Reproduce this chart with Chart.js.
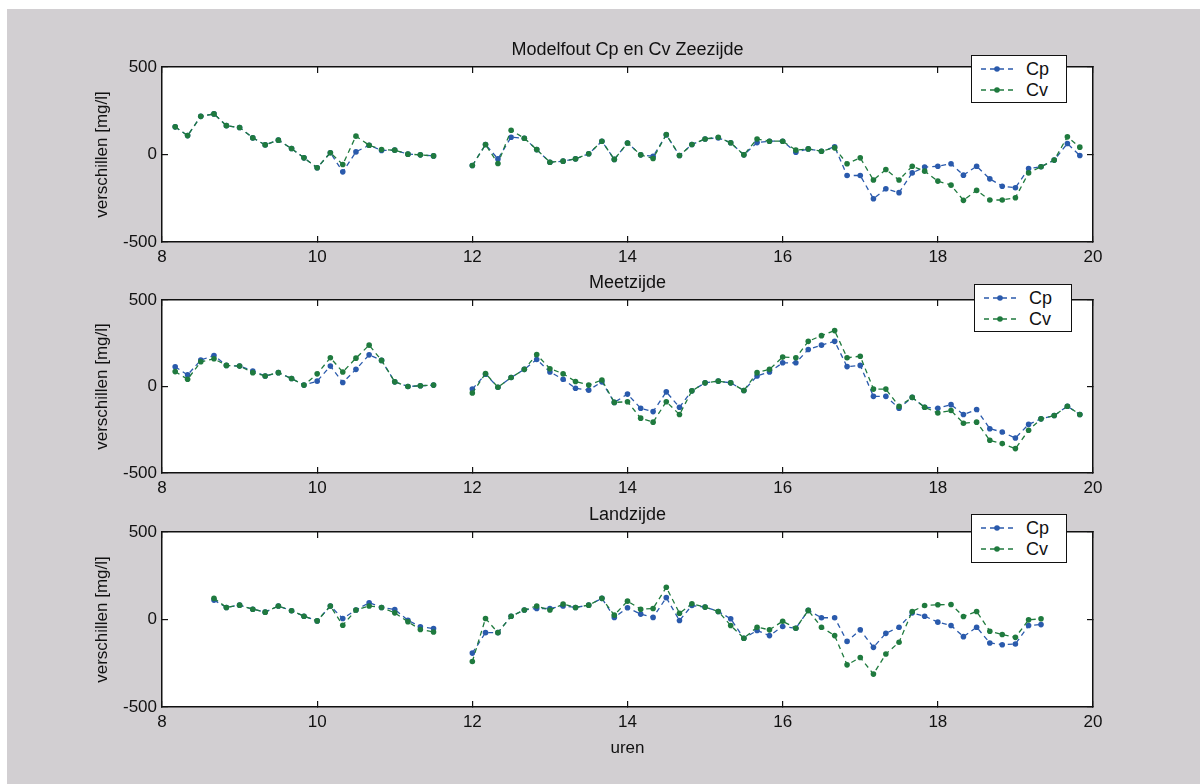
<!DOCTYPE html>
<html>
<head>
<meta charset="utf-8">
<script src="https://cdn.jsdelivr.net/npm/chart.js@4.4.1/dist/chart.umd.min.js"></script>
<style>
  html, body { margin:0; padding:0; width:1200px; height:784px; overflow:hidden; background:#ffffff; }
  #paper { position:absolute; left:7px; top:9px; right:0; bottom:0; background:#d2cfd2; }
  canvas { position:absolute; left:0; top:0; }
  .legend { position:absolute; background:#fff; border:1px solid #111; box-sizing:border-box;
            font-family:"Liberation Sans", Arial, sans-serif; font-size:18px; color:#111; }
  .legend .row { position:absolute; left:0; height:22px; display:flex; align-items:center; }
  .legend svg { margin-left:8px; margin-right:12px; }
</style>
</head>
<body>
<div id="paper"></div>
<canvas id="c1" width="1200" height="784"></canvas>
<canvas id="c2" width="1200" height="784"></canvas>
<canvas id="c3" width="1200" height="784"></canvas>
<div id="legends"></div>
<script>
// ---- data ----
const hoursFull = [8.17,8.33,8.5,8.67,8.83,9,9.17,9.33,9.5,9.67,9.83,10,10.17,10.33,10.5,10.67,10.83,11,11.17,11.33,11.5,11.67,11.83,
  12,12.17,12.33,12.5,12.67,12.83,13,13.17,13.33,13.5,13.67,13.83,14,14.17,14.33,14.5,14.67,14.83,15,15.17,15.33,15.5,15.67,15.83,
  16,16.17,16.33,16.5,16.67,16.83,17,17.17,17.33,17.5,17.67,17.83,18,18.17,18.33,18.5,18.67,18.83,19,19.17,19.33,19.5,19.67,19.83];
const hoursLand = [8.67,8.83,9,9.17,9.33,9.5,9.67,9.83,10,10.17,10.33,10.5,10.67,10.83,11,11.17,11.33,11.5,11.67,11.83,
  12,12.17,12.33,12.5,12.67,12.83,13,13.17,13.33,13.5,13.67,13.83,14,14.17,14.33,14.5,14.67,14.83,15,15.17,15.33,15.5,15.67,15.83,
  16,16.17,16.33,16.5,16.67,16.83,17,17.17,17.33,17.5,17.67,17.83,18,18.17,18.33,18.5,18.67,18.83,19,19.17,19.33];

const zeeCp = [158,108,218,232,165,154,95,55,82,34,-19,-76,10,-99,15,53,23,25,2,-2,-8,null,null,
  -63,57,-25,99,93,28,-44,-38,-25,4,76,-28,66,-2,-10,112,-6,57,89,95,67,-2,68,76,76,13,32,19,44,
  -120,-120,-253,-196,-218,-105,-72,-67,-53,-118,-67,-139,-181,-190,-80,-70,-32,63,-6];
const zeeCv = [158,108,218,232,165,154,95,55,82,34,-19,-76,10,-57,105,53,28,25,2,-2,-8,null,null,
  -63,57,-51,139,93,28,-44,-38,-25,4,76,-28,66,-2,-23,114,-6,57,89,99,67,-2,89,76,76,25,32,19,38,
  -53,-19,-146,-86,-146,-67,-95,-152,-175,-262,-205,-260,-260,-247,-105,-70,-32,101,42];

const meetCp = [114,67,153,179,122,118,90,61,80,46,8,31,118,23,99,183,151,27,0,4,8,null,null,
  -15,71,-4,52,99,156,84,42,-10,-21,27,-92,-44,-126,-145,-31,-120,-25,21,31,21,-23,61,84,137,137,214,239,261,
  115,122,-57,-57,-126,-63,-120,-126,-105,-162,-133,-244,-263,-298,-219,-187,-168,-114,-162];
const meetCv = [86,42,143,160,122,118,80,61,80,46,8,73,166,84,164,239,151,27,0,4,8,null,null,
  -38,75,-4,52,99,185,103,74,29,8,38,-92,-88,-183,-206,-88,-162,-25,21,31,21,-23,80,99,170,166,261,294,323,
  166,175,-15,-15,-115,-63,-120,-153,-139,-212,-206,-311,-330,-359,-253,-187,-168,-114,-162];

const landCp = [111,69,82,59,42,77,50,19,-8,77,6,54,96,69,57,-4,-42,-52,null,null,
  -192,-75,-75,19,54,63,63,77,69,82,121,12,67,31,12,125,-6,80,71,46,4,-107,-63,-92,-40,-50,52,10,10,
  -125,-59,-159,-79,-44,38,19,-15,-34,-98,-44,-134,-144,-140,-34,-29];
const landCv = [121,69,82,59,42,77,50,19,-8,77,-33,54,77,69,38,-13,-57,-71,null,null,
  -240,6,-75,19,54,77,54,88,69,82,121,25,105,59,63,184,36,90,71,46,-34,-107,-44,-59,-10,-50,52,-44,-92,
  -259,-217,-312,-197,-130,46,80,84,86,17,46,-67,-86,-102,-2,4];

const xTicks = [8,10,12,14,16,18,20];
const yTicks = [-500,0,500];
const seriesNames = ['Cp','Cv'];
const titles = ['Modelfout Cp en Cv Zeezijde','Meetzijde','Landzijde'];
const yTitle = 'verschillen [mg/l]';
const xTitle = 'uren';

// ---- style ----
const FONT = '"Liberation Sans", Arial, sans-serif';
const BLUE = '#2a5aac';
const GREEN = '#1f7a3e';
const INK = '#111111';

function pts(h, v) { return h.map((x, i) => ({x: x, y: v[i]})); }

const whiteArea = {
  id: 'whiteArea',
  beforeDraw(chart) {
    const a = chart.chartArea, ctx = chart.ctx;
    ctx.save(); ctx.fillStyle = '#ffffff';
    ctx.fillRect(a.left, a.top, a.right - a.left, a.bottom - a.top);
    ctx.restore();
  }
};

function makeChart(id, title, hours, cp, cv, area, isLast) {
  const xAxisH = isLast ? 784 - area.bottom : 40;
  const padBottom = isLast ? 0 : 784 - area.bottom - xAxisH;
  const axisBorder = {display: true, color: INK, width: 1.5};
  const tickGrid = {drawOnChartArea: false, drawTicks: true, tickLength: -6, color: INK, lineWidth: 1.2};
  return new Chart(document.getElementById(id), {
    type: 'line',
    data: {
      datasets: [
        {label: seriesNames[0], data: pts(hours, cp), borderColor: BLUE, backgroundColor: BLUE,
         borderWidth: 1.3, borderDash: [5, 4], pointRadius: 2.8, pointBorderWidth: 0, pointBackgroundColor: BLUE,
         spanGaps: false, tension: 0, order: 2},
        {label: seriesNames[1], data: pts(hours, cv), borderColor: GREEN, backgroundColor: GREEN,
         borderWidth: 1.3, borderDash: [5, 4], pointRadius: 2.8, pointBorderWidth: 0, pointBackgroundColor: GREEN,
         spanGaps: false, tension: 0, order: 1}
      ]
    },
    options: {
      responsive: false, animation: false, devicePixelRatio: 1,
      events: [],
      layout: {padding: {left: 0, right: 107, top: 0, bottom: padBottom}},
      plugins: {
        legend: {display: false},
        tooltip: {enabled: false},
        title: {display: true, fullSize: false, text: title, color: INK,
                font: {family: FONT, size: 18, weight: 'normal', lineHeight: 1.2},
                padding: {top: area.titleCenter - 10.8, bottom: area.top - area.titleCenter - 10.8}}
      },
      scales: {
        x: {type: 'linear', position: 'bottom', min: 8, max: 20,
            afterBuildTicks: s => { s.ticks = xTicks.map(v => ({value: v})); },
            afterFit: s => { s.height = xAxisH; },
            border: axisBorder, grid: tickGrid,
            ticks: {color: INK, font: {family: FONT, size: 17}, padding: 11, maxRotation: 0, autoSkip: false},
            title: {display: isLast, text: xTitle, color: INK, font: {family: FONT, size: 17}, padding: {top: 0, bottom: 25.8}}},
        x2: {type: 'linear', position: 'top', min: 8, max: 20,
            afterBuildTicks: s => { s.ticks = xTicks.map(v => ({value: v})); },
            afterFit: s => { s.height = 0; },
            border: axisBorder, grid: tickGrid, ticks: {display: false}},
        y: {type: 'linear', position: 'left', min: -500, max: 500,
            afterBuildTicks: s => { s.ticks = yTicks.map(v => ({value: v})); },
            afterFit: s => { s.width = 162; },
            border: axisBorder, grid: tickGrid,
            ticks: {color: INK, font: {family: FONT, size: 17}, padding: 11},
            title: {display: true, text: yTitle, color: INK, font: {family: FONT, size: 17}, padding: {top: 91.8, bottom: 0}}},
        y2: {type: 'linear', position: 'right', min: -500, max: 500,
            afterBuildTicks: s => { s.ticks = yTicks.map(v => ({value: v})); },
            afterFit: s => { s.width = 0; },
            border: axisBorder, grid: tickGrid, ticks: {display: false}}
      }
    },
    plugins: [whiteArea]
  });
}

makeChart('c1', titles[0], hoursFull, zeeCp, zeeCv, {titleCenter: 50, top: 67, bottom: 242}, false);
makeChart('c2', titles[1], hoursFull, meetCp, meetCv, {titleCenter: 283, top: 300, bottom: 473}, false);
makeChart('c3', titles[2], hoursLand, landCp, landCv, {titleCenter: 515, top: 532, bottom: 707}, true);

// ---- legends (HTML) ----
const legendBoxes = [
  {left: 971, top: 55, width: 96, height: 48},
  {left: 974, top: 284, width: 98, height: 48},
  {left: 971, top: 514, width: 96, height: 49}
];
const colors = [BLUE, GREEN];
const host = document.getElementById('legends');
legendBoxes.forEach(b => {
  const d = document.createElement('div');
  d.className = 'legend';
  Object.assign(d.style, {left: b.left + 'px', top: b.top + 'px', width: b.width + 'px', height: b.height + 'px'});
  seriesNames.forEach((name, i) => {
    const r = document.createElement('div');
    r.className = 'row';
    r.style.top = (2 + i * 21) + 'px';
    r.innerHTML = '<svg width="34" height="10"><line x1="1" y1="5" x2="33" y2="5" stroke="' + colors[i] +
      '" stroke-width="1.3" stroke-dasharray="5 4"/><circle cx="17" cy="5" r="2.8" fill="' + colors[i] + '"/></svg>' +
      '<span>' + name + '</span>';
    d.appendChild(r);
  });
  host.appendChild(d);
});
</script>
</body>
</html>
